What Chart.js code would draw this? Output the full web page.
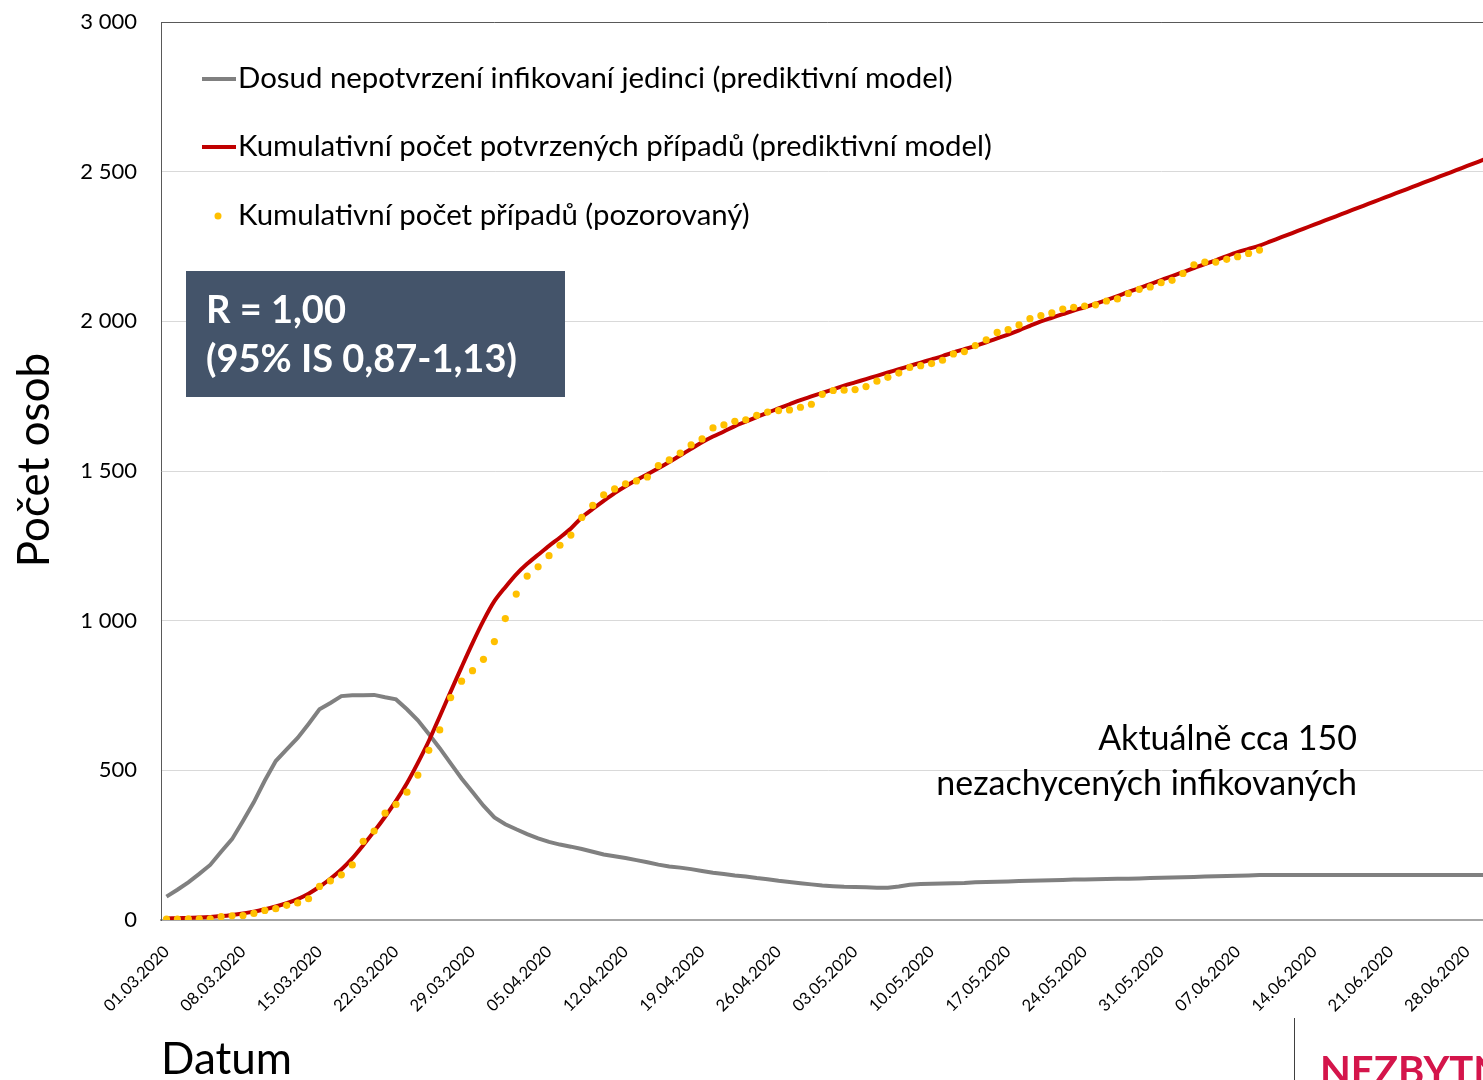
<!DOCTYPE html>
<html lang="cs">
<head>
<meta charset="utf-8">
<title>Počet osob</title>
<script src="https://cdn.jsdelivr.net/npm/chart.js@4.4.1/dist/chart.umd.min.js"></script>
<style>
  html, body { margin: 0; padding: 0; width: 1483px; height: 1080px; overflow: hidden; background: #fff; }
  #wrap { position: absolute; left: 0; top: 0; width: 1500px; height: 1100px; }
  #logo-line { position: absolute; left: 1294px; top: 1018px; width: 1px; height: 70px; background: #404040; }
  #logo { position: absolute; left: 1320px; top: 1046px; font: bold 40px Lato, sans-serif; color: #d4154b; white-space: nowrap; }
</style>
</head>
<body>
<div id="wrap"><canvas id="myChart"></canvas></div>
<div id="logo-line"></div>
<div id="logo">NEZBYTNÉ</div>
<script>
// days 01.03.2020 - 30.06.2020
const months = [[3, 31], [4, 30], [5, 31], [6, 30]];
const dates = months.flatMap(([m, n]) =>
  Array.from({ length: n }, (_, d) =>
    String(d + 1).padStart(2, "0") + "." + String(m).padStart(2, "0") + ".2020"
  )
);

const yTicks = [0, 500, 1000, 1500, 2000, 2500, 3000];

// Dosud nepotvrzení infikovaní jedinci (prediktivní model)
const undetected = [
  78, 101, 126, 154, 184, 228, 270, 331, 394, 466,
  531, 570, 608, 655, 704, 725, 748, 751, 751, 752,
  744, 737, 704, 667, 621, 574, 523, 473, 428, 382,
  343, 320, 303, 287, 273, 261, 252, 245, 237, 228,
  219, 213, 207, 200, 193, 185, 179, 175, 170, 164,
  158, 154, 149, 145, 140, 136, 131, 127, 123, 119,
  115, 113, 111, 110, 109, 108, 108, 112, 118, 120,
  121, 122, 123, 124, 126, 127, 128, 129, 130, 131,
  132, 133, 134, 135, 135, 136, 137, 138, 138, 139,
  140, 141, 142, 143, 144, 145, 146, 147, 148, 149,
  150, 150, 150, 150, 150, 150, 150, 150, 150, 150,
  150, 150, 150, 150, 150, 150, 150, 150, 150, 150,
  150, 150,
];

// Kumulativní počet potvrzených případů (prediktivní model)
const modelCases = [
  5, 6, 7, 8, 10, 13, 17, 22, 28, 36,
  45, 56, 70, 88, 111, 138, 169, 206, 250, 296,
  345, 398, 457, 525, 598, 680, 763, 845, 925, 1000,
  1065, 1112, 1155, 1190, 1220, 1250, 1278, 1308, 1345, 1373,
  1400, 1426, 1449, 1470, 1489, 1509, 1530, 1552, 1574, 1596,
  1615, 1632, 1650, 1665, 1680, 1695, 1709, 1723, 1737, 1749,
  1761, 1773, 1785, 1796, 1807, 1818, 1829, 1840, 1851, 1862,
  1873, 1884, 1896, 1907, 1918, 1930, 1943, 1956, 1970, 1985,
  2000, 2012, 2024, 2036, 2047, 2059, 2071, 2084, 2098, 2111,
  2124, 2138, 2151, 2164, 2178, 2191, 2204, 2218, 2231, 2242,
  2253, 2267, 2281, 2295, 2309, 2323, 2337, 2351, 2365, 2379,
  2393, 2407, 2421, 2435, 2449, 2463, 2477, 2491, 2505, 2519,
  2533, 2547,
];

// Kumulativní počet případů (pozorovaný)
const observed = [
  3, 3, 4, 4, 4, 11, 14, 15, 22, 32,
  38, 49, 57, 71, 112, 131, 151, 184, 263, 297,
  357, 386, 427, 484, 567, 635, 743, 798, 833, 871,
  930, 1007, 1089, 1149, 1180, 1217, 1252, 1286, 1345, 1385,
  1420, 1440, 1457, 1467, 1480, 1518, 1537, 1560, 1587, 1607,
  1644, 1654, 1666, 1671, 1686, 1697, 1702, 1704, 1713, 1723,
  1756, 1769, 1770, 1772, 1782, 1800, 1813, 1827, 1846, 1852,
  1859, 1870, 1891, 1899, 1919, 1938, 1963, 1972, 1988, 2009,
  2019, 2028, 2041, 2047, 2051, 2055, 2068, 2075, 2093, 2107,
  2115, 2129, 2137, 2160, 2189, 2198, 2198, 2207, 2216, 2227,
  2238,
];

const FONT = "Lato";
Chart.defaults.font.family = FONT;
Chart.defaults.color = "#000";

const fmt = (v) => String(v).replace(/\B(?=(\d{3})+(?!\d))/g, " ");

/**
 * legend, axis title, R box and the note, drawn on top of the chart
 */
const overlay = {
  id: "overlay",
  afterDraw(chart) {
    const { ctx, chartArea: a } = chart;
    const ds = chart.data.datasets;
    ctx.save();

    // top edge of the plot area
    ctx.strokeStyle = "#595959";
    ctx.lineWidth = 1;
    ctx.beginPath();
    ctx.moveTo(a.left, a.top + 0.5);
    ctx.lineTo(a.right, a.top + 0.5);
    ctx.stroke();

    // y title
    ctx.save();
    ctx.translate(35, 460);
    ctx.rotate(-Math.PI / 2);
    ctx.fillStyle = "#000";
    ctx.font = "44px " + FONT;
    ctx.textAlign = "center";
    ctx.textBaseline = "middle";
    ctx.fillText("Počet osob", 0, 0);
    ctx.restore();

    // legend
    const rows = [79, 147, 216];
    ctx.font = "29.4px " + FONT;
    ctx.textBaseline = "middle";
    ctx.textAlign = "left";
    ds.forEach((d, i) => {
      const y = rows[i];
      if (d.showLine === false) {
        ctx.fillStyle = d.pointBackgroundColor;
        ctx.beginPath();
        ctx.arc(218, y, 3.5, 0, Math.PI * 2);
        ctx.fill();
      } else {
        ctx.strokeStyle = d.borderColor;
        ctx.lineWidth = 4;
        ctx.beginPath();
        ctx.moveTo(202, y);
        ctx.lineTo(236, y);
        ctx.stroke();
      }
      ctx.fillStyle = "#000";
      ctx.fillText(d.label, 238, y);
    });

    // R box
    ctx.fillStyle = "#44546a";
    ctx.fillRect(186, 271, 379, 126);
    ctx.fillStyle = "#fff";
    ctx.font = "bold 38px " + FONT;
    ctx.textBaseline = "alphabetic";
    ctx.fillText("R = 1,00", 206, 323);
    ctx.fillText("(95% IS 0,87-1,13)", 206, 372);

    // note
    ctx.fillStyle = "#000";
    ctx.font = "34px " + FONT;
    ctx.textAlign = "right";
    ctx.textBaseline = "middle";
    ctx.fillText("Aktuálně cca 150", 1357, 739);
    ctx.fillText("nezachycených infikovaných", 1357, 784);

    ctx.restore();
  },
};

const ctx = document.getElementById("myChart").getContext("2d");

const myChart = new Chart(ctx, {
  type: "line",
  data: {
    labels: dates,
    datasets: [
      {
        label: "Dosud nepotvrzení infikovaní jedinci (prediktivní model)",
        data: undetected,
        borderColor: "#808080",
        borderWidth: 4,
        pointRadius: 0,
        tension: 0,
        order: 2,
      },
      {
        label: "Kumulativní počet potvrzených případů (prediktivní model)",
        data: modelCases,
        borderColor: "#c00000",
        borderWidth: 4,
        pointRadius: 0,
        tension: 0.3,
        order: 1,
      },
      {
        label: "Kumulativní počet případů (pozorovaný)",
        data: observed,
        showLine: false,
        pointRadius: 3.6,
        pointBorderWidth: 0,
        pointBackgroundColor: "#ffc000",
        pointBorderColor: "#ffc000",
        order: 0,
      },
    ],
  },
  options: {
    responsive: true,
    maintainAspectRatio: false,
    animation: false,
    layout: {
      padding: { top: 22, right: 5.5, left: 0, bottom: 0 },
    },
    scales: {
      x: {
        offset: true,
        grid: { display: false },
        border: { display: true, color: "#a6a6a6", width: 2 },
        ticks: {
          autoSkip: false,
          minRotation: 45,
          maxRotation: 45,
          padding: 14,
          font: { size: 16.5 },
          callback: (v, i) => (i % 7 === 0 ? dates[i] : null),
        },
        title: {
          display: true,
          text: "Datum",
          align: "start",
          font: { size: 44 },
          padding: { top: 0, bottom: 14 },
        },
        afterFit: (s) => {
          s.height = 180;
          s.paddingLeft = 0;
          s.paddingRight = 0;
        },
      },
      y: {
        min: 0,
        max: 3000,
        afterBuildTicks: (s) => {
          s.ticks = yTicks.map((v) => ({ value: v }));
        },
        grid: { color: "#d9d9d9", lineWidth: 1, drawTicks: false },
        border: { display: true, color: "#595959", width: 1 },
        ticks: {
          padding: 24,
          font: { size: 22 },
          callback: (v) => fmt(v),
        },
        afterFit: (s) => {
          s.width = 161;
          s.paddingTop = 0;
          s.paddingBottom = 0;
        },
      },
    },
    plugins: {
      legend: { display: false },
      tooltip: { enabled: false },
    },
  },
  plugins: [overlay],
});
</script>
</body>
</html>
